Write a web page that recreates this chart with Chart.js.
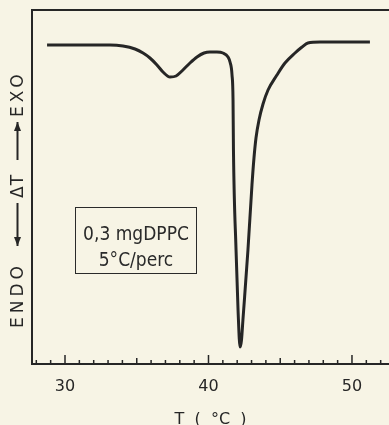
<!DOCTYPE html>
<html>
<head>
<meta charset="utf-8">
<script src="https://cdn.jsdelivr.net/npm/chart.js@4/dist/chart.umd.min.js"></script>
<style>
  body { margin: 0; background: #f7f4e5; }
  #wrap { position: relative; width: 389px; height: 425px; }
  #note {
    position: absolute; left: 75px; top: 207px;
    width: 120px; height: 53px;
    border: 1.5px solid #2a2a2a;
    font-family: "DejaVu Sans Condensed", "DejaVu Sans", sans-serif;
    font-size: 19px; color: #2a2a2a;
    text-align: center; line-height: 26px;
    padding-top: 12px;
  }
</style>
</head>
<body>
<div id="wrap">
  <canvas id="dsc" width="389" height="425"></canvas>
  <div id="note">0,3 mgDPPC<br>5°C/perc</div>
</div>
<script>
// temperature (°C) and DSC signal (arbitrary units)
var temps = [28.75, 31.05, 33.14, 34.04, 34.88, 35.44, 35.92, 36.41, 36.83, 37.32,
             37.74, 38.22, 38.71, 39.20, 39.69, 40.10, 40.59, 41.01, 41.36, 41.50,
             41.64, 41.71, 41.74, 41.92, 42.06, 42.20, 42.30, 42.40, 42.75, 43.03,
             43.17, 43.31, 43.52, 43.80, 44.15, 44.77, 45.33, 46.03, 46.52, 46.93,
             47.77, 49.86, 51.25];
var deltaT = [0, 0, 0, -0.1, -0.4, -0.8, -1.3, -2.0, -2.7, -3.2,
              -3.1, -2.5, -1.8, -1.2, -0.8, -0.7, -0.7, -0.8, -1.2, -1.7,
              -3.0, -5.5, -10.5, -20.5, -26.5, -30.2, -29.5, -27.5, -20.5, -14.0,
              -11.3, -9.3, -7.5, -5.9, -4.5, -3.0, -1.8, -0.8, -0.2, 0.2,
              0.3, 0.3, 0.3];
var labelTicks = [30, 40, 50];
var minorTicks = [28, 29, 30, 31, 32, 33, 34, 35, 36, 37, 38, 39, 40, 41, 42,
                  43, 44, 45, 46, 47, 48, 49, 50, 51, 52];

var ink = '#262626';

var points = [];
for (var i = 0; i < temps.length; i++) {
    points.push({x: temps[i], y: deltaT[i]});
}

// ticks point inward, plus the top frame line
var framePlugin = {
    id: 'frame',
    afterDraw: function(chart) {
        var ctx = chart.ctx;
        var area = chart.chartArea;
        var xs = chart.scales.x;
        ctx.save();
        ctx.strokeStyle = ink;
        ctx.lineWidth = 2;
        ctx.beginPath();
        ctx.moveTo(area.left - 1, area.top);
        ctx.lineTo(area.right, area.top);
        ctx.stroke();
        ctx.lineWidth = 1.5;
        minorTicks.forEach(function(v) {
            var px = xs.getPixelForValue(v);
            var len = 4;
            if (v % 10 == 0) len = 9;
            else if (v % 5 == 0) len = 6;
            ctx.beginPath();
            ctx.moveTo(px, area.bottom);
            ctx.lineTo(px, area.bottom - len);
            ctx.stroke();
        });
        ctx.restore();
    }
};

function arrow(ctx, from, to) {
    ctx.beginPath();
    ctx.moveTo(from, 0);
    ctx.lineTo(to, 0);
    ctx.stroke();
    var dir = to > from ? 1 : -1;
    ctx.beginPath();
    ctx.moveTo(to, 0);
    ctx.lineTo(to - dir * 9, -3.5);
    ctx.lineTo(to - dir * 9, 3.5);
    ctx.closePath();
    ctx.fill();
}

// rotated y label: ENDO <-- ΔT --> EXO
var yLabelPlugin = {
    id: 'ylabel',
    afterDraw: function(chart) {
        var ctx = chart.ctx;
        ctx.save();
        ctx.translate(17.5, 200);
        ctx.rotate(-Math.PI / 2);
        ctx.fillStyle = ink;
        ctx.strokeStyle = ink;
        ctx.lineWidth = 2;
        ctx.font = '17px "DejaVu Sans"';
        ctx.textBaseline = 'middle';
        ctx.textAlign = 'left';
        ctx.letterSpacing = '4px';
        ctx.fillText('ENDO', -128, 1);
        ctx.fillText('EXO', 83, 1);
        ctx.letterSpacing = '1px';
        ctx.fillText('ΔT', 2, 1);
        arrow(ctx, -3, -46);
        arrow(ctx, 40, 78);
        ctx.restore();
    }
};

new Chart(document.getElementById('dsc'), {
    type: 'line',
    data: {
        datasets: [{
            data: points,
            borderColor: ink,
            borderWidth: 3,
            pointRadius: 0,
            fill: false,
            cubicInterpolationMode: 'monotone'
        }]
    },
    options: {
        responsive: false,
        animation: false,
        layout: {padding: {top: 10, right: 0, bottom: 0, left: 0}},
        plugins: {
            legend: {display: false},
            tooltip: {enabled: false}
        },
        scales: {
            x: {
                type: 'linear',
                min: 27.7,
                max: 52.58,
                afterFit: function(s) { s.height = 61; },
                afterBuildTicks: function(s) {
                    s.ticks = labelTicks.map(function(v) { return {value: v}; });
                },
                grid: {display: false, drawTicks: false},
                border: {display: true, color: ink, width: 2},
                ticks: {
                    color: ink,
                    padding: 13,
                    font: {family: 'DejaVu Sans', size: 16},
                    maxRotation: 0,
                    callback: function(v) { return String(v); }
                },
                title: {
                    display: true,
                    text: 'T  (  °C  )',
                    color: ink,
                    font: {family: 'DejaVu Sans', size: 16},
                    padding: {top: 0, bottom: -4}
                }
            },
            y: {
                min: -31.9,
                max: 3.5,
                afterFit: function(s) { s.width = 32; },
                grid: {display: false, drawTicks: false},
                border: {display: true, color: ink, width: 2},
                ticks: {display: false}
            }
        }
    },
    plugins: [framePlugin, yLabelPlugin]
});
</script>
</body>
</html>
